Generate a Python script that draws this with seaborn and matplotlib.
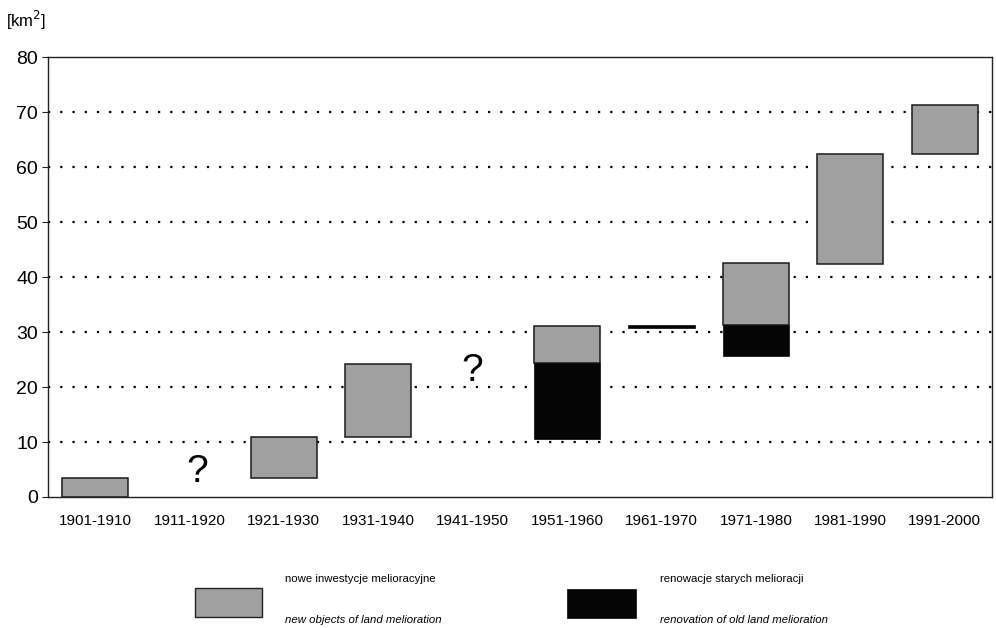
import numpy as np
import pandas as pd
import matplotlib
matplotlib.use('Agg')
import matplotlib.pyplot as plt
from matplotlib.patches import Rectangle
import seaborn as sns

# decades on the x axis
categories = ['1901-1910', '1911-1920', '1921-1930', '1931-1940', '1941-1950',
              '1951-1960', '1961-1970', '1971-1980', '1981-1990', '1991-2000']

# new objects of land melioration (floating bars: bottom -> top, km2)
new_cats   = ['1901-1910', '1921-1930', '1931-1940', '1951-1960', '1971-1980', '1981-1990', '1991-2000']
new_bottom = [0.0, 3.5, 10.9, 24.4, 31.2, 42.4, 62.4]
new_top    = [3.5, 10.9, 24.2, 31.1, 42.5, 62.4, 71.3]

# renovation of old land melioration
old_cats   = ['1951-1960', '1961-1970', '1971-1980']
old_bottom = [10.6, 30.8, 25.6]
old_top    = [24.4, 31.2, 31.2]

# decades with unknown values
unknown_cats = ['1911-1920', '1941-1950']
unknown_y    = [1.2, 19.6]
unknown_dx   = [0.08, 0.0]   # small horizontal nudge, as in the original

GRAY  = '#a0a0a0'
BLACK = '#050505'

sns.set_style('white')
plt.rcParams['font.family'] = ['Liberation Sans', 'DejaVu Sans']
plt.rcParams['text.color'] = 'black'

fig = plt.figure(figsize=(9.96, 6.28), dpi=100)
ax = fig.add_axes([0.048, 0.2086, 0.948, 0.7006])

new_df = pd.DataFrame({'decade': new_cats, 'h': np.array(new_top) - np.array(new_bottom)})
old_df = pd.DataFrame({'decade': old_cats, 'h': np.array(old_top) - np.array(old_bottom)})

sns.barplot(data=new_df, x='decade', y='h', order=categories, bottom=new_bottom,
            color=GRAY, saturation=1, width=0.7, edgecolor='#1a1a1a', linewidth=1.1,
            errorbar=None, ax=ax, zorder=3)
sns.barplot(data=old_df, x='decade', y='h', order=categories, bottom=old_bottom,
            color=BLACK, saturation=1, width=0.7, edgecolor=BLACK, linewidth=0.5,
            errorbar=None, ax=ax, zorder=3)

for cat, yv, dx in zip(unknown_cats, unknown_y, unknown_dx):
    ax.text(categories.index(cat) + dx, yv, '?', ha='center', va='bottom',
            fontsize=28, color='black')

ax.set_ylim(0, 80)
ax.set_xlim(-0.5, len(categories) - 0.5)
ax.set_yticks(range(0, 81, 10))
for v in range(10, 80, 10):
    ax.axhline(v, color='black', linestyle=(0, (1, 4.5)), linewidth=1.6, zorder=1)

ax.set_xlabel('')
ax.set_ylabel('')
ax.tick_params(axis='y', labelsize=14, length=4, width=0.8, color='#222222',
               labelcolor='black', pad=3, left=True)
ax.tick_params(axis='x', labelsize=11, length=0, pad=12, labelcolor='black')
for s in ax.spines.values():
    s.set_color('#222222')
    s.set_linewidth(1.0)

fig.text(0.006, 0.968, '[km$^2$]', fontsize=12, va='center', ha='left')

# legend drawn below the plot
fig.patches.append(Rectangle((195 / 996, 1 - 617 / 628), 67 / 996, 29 / 628,
                             transform=fig.transFigure, facecolor=GRAY,
                             edgecolor='#222222', linewidth=1.0))
fig.patches.append(Rectangle((567 / 996, 1 - 618 / 628), 69 / 996, 29 / 628,
                             transform=fig.transFigure, facecolor=BLACK,
                             edgecolor=BLACK, linewidth=0.5))
fig.text(285 / 996, 1 - 579 / 628, 'nowe inwestycje melioracyjne', fontsize=8.2, va='center')
fig.text(285 / 996, 1 - 620 / 628, 'new objects of land melioration', fontsize=8.2,
         va='center', style='italic')
fig.text(660 / 996, 1 - 579 / 628, 'renowacje starych melioracji', fontsize=8.2, va='center')
fig.text(660 / 996, 1 - 620 / 628, 'renovation of old land melioration', fontsize=8.2,
         va='center', style='italic')

fig.savefig('out.png', dpi=100)
